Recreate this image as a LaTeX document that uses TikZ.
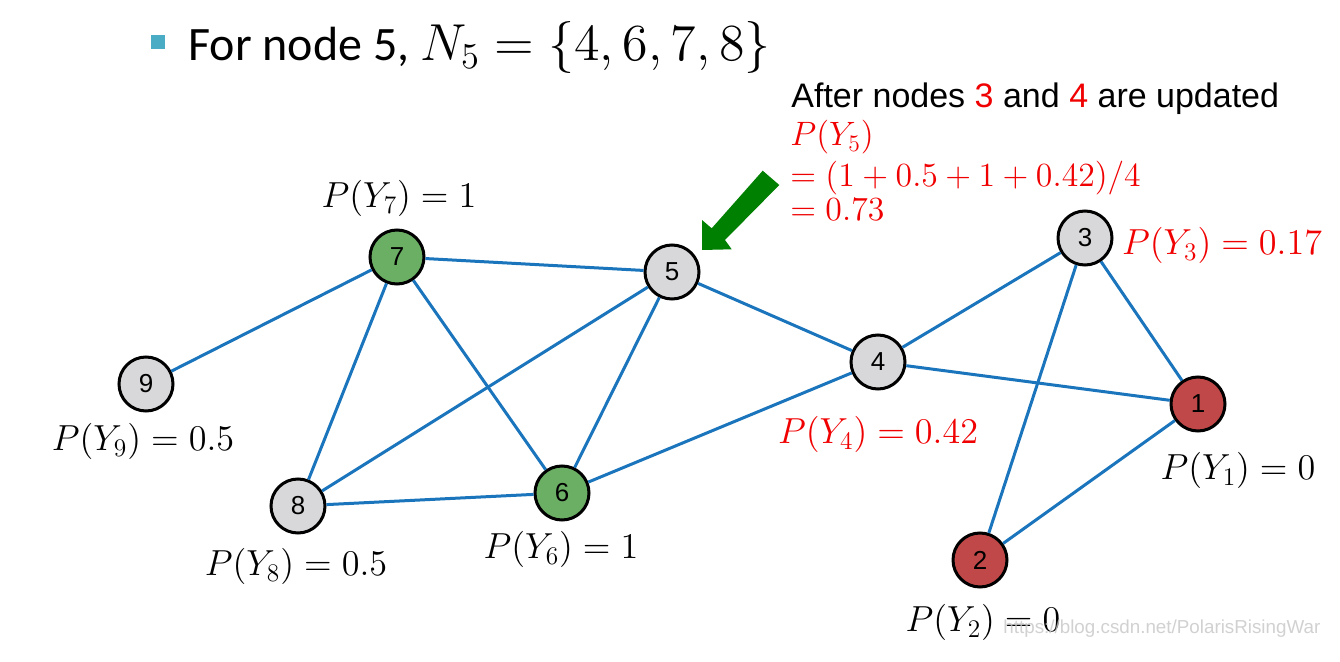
\documentclass[tikz,border=0pt]{standalone}
\usepackage{fontspec}
\setmainfont{Liberation Sans}
\newfontfamily\titlefont{Carlito}
\DeclareFontShape{OML}{cmm}{m}{it}{<-9>cmmi9 <9-11>cmmi10 <11->cmmi12}{}
\DeclareFontShape{OT1}{cmr}{m}{n}{<-9>cmr9 <9-11>cmr10 <11->cmr12}{}
\DeclareFontShape{OMS}{cmsy}{m}{n}{<-9>cmsy9 <9->cmsy10}{}
\definecolor{edgeblue}{RGB}{26,117,188}
\definecolor{nodegray}{RGB}{216,216,218}
\definecolor{nodegreen}{RGB}{106,175,100}
\definecolor{nodered}{RGB}{192,72,72}
\definecolor{arrowgreen}{RGB}{0,128,0}
\definecolor{bulletblue}{RGB}{75,172,198}
\definecolor{labred}{RGB}{240,0,0}
\begin{document}
\begin{tikzpicture}[x=0.5pt,y=-0.5pt,
  gnode/.style={circle,draw=black,line width=1.5pt,minimum size=27pt,inner sep=0pt,
     font=\fontsize{13}{15}\selectfont},
  gr/.style={gnode,fill=nodegray},
  gn/.style={gnode,fill=nodegreen},
  rd/.style={gnode,fill=nodered},
  edge/.style={draw=edgeblue,line width=1.5pt},
  lab/.style={anchor=base,inner sep=0pt,font=\fontsize{18.1}{22}\selectfont},
  redlab/.style={lab,text=labred},
  line/.style={anchor=base west,inner sep=0pt,font=\fontsize{16.9}{20}\selectfont,text=labred}]
\useasboundingbox (0,0) rectangle (1340,662);
\fill[white] (0,0) rectangle (1340,662);
% title
\fill[bulletblue] (151,35) rectangle (165,49);
\node[anchor=base west,inner sep=0pt,font=\titlefont\fontsize{24}{28}\selectfont] (title) at (188,61)
  {For node 5, {\fontsize{26}{30}\selectfont$N_5=\{4,6,7,8\}$}};
% nodes
\node[gn] (n7) at (397,257) {7};
\node[gr] (n5) at (672,272) {5};
\node[gr] (n3) at (1085,238) {3};
\node[gr] (n4) at (878,362) {4};
\node[rd] (n1) at (1198,404) {1};
\node[gr] (n9) at (146,384) {9};
\node[gr] (n8) at (298,506) {8};
\node[gn] (n6) at (562,493) {6};
\node[rd] (n2) at (980,560) {2};
% edges
\path[edge] (n7) -- (n5);
\path[edge] (n7) -- (n9);
\path[edge] (n7) -- (n8);
\path[edge] (n7) -- (n6);
\path[edge] (n5) -- (n8);
\path[edge] (n5) -- (n6);
\path[edge] (n5) -- (n4);
\path[edge] (n4) -- (n3);
\path[edge] (n4) -- (n1);
\path[edge] (n3) -- (n1);
\path[edge] (n3) -- (n2);
\path[edge] (n1) -- (n2);
\path[edge] (n8) -- (n6);
\path[edge] (n6) -- (n4);
% labels
\node[lab] (l7) at (399,208) {$P(Y_7)=1$};
\node[lab] (l9) at (143,451) {$P(Y_9)=0.5$};
\node[lab] (l8) at (296,576) {$P(Y_8)=0.5$};
\node[lab] (l6) at (561,559) {$P(Y_6)=1$};
\node[redlab] (l4) at (878,444) {$P(Y_4)=0.42$};
\node[redlab] (l3) at (1222,255) {$P(Y_3)=0.17$};
\node[lab] (l1) at (1238,480) {$P(Y_1)=0$};
\node[lab] (l2) at (983,632) {$P(Y_2)=0$};
% annotation
\node[anchor=base west,inner sep=0pt,font=\fontsize{17}{20}\selectfont] (after) at (791,108)
  {After nodes \textcolor{labred}{3} and \textcolor{labred}{4} are updated};
\node[line] (r1) at (790,146) {$P(Y_5)$};
\node[line] (r2) at (790,187) {$=(1+0.5+1+0.42)/4$};
\node[line] (r3) at (790,221) {$=0.73$};
% arrow
\fill[arrowgreen] (702,250) -- (702,220) -- (711.7,228.3) -- (762.7,170.7) -- (779.3,185)
  -- (725,240) -- (731.7,249.3) -- cycle;
% watermark
\node[anchor=base west,inner sep=0pt,text=gray!45,opacity=0.8,font=\fontsize{9.4}{11}\selectfont] (wm) at (1003,634)
  {https://blog.csdn.net/PolarisRisingWar};
\end{tikzpicture}
\end{document}
